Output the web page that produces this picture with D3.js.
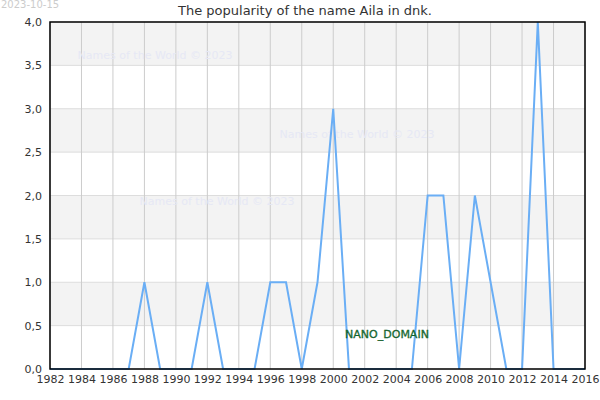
<!DOCTYPE html><html><head><script src="https://cdn.jsdelivr.net/npm/d3@7"></script>
<style>body{margin:0}</style></head><body><svg width="600" height="400"></svg><script>
const years=d3.range(1982,2017);
const values=[0,0,0,0,0,0,1,0,0,0,1,0,0,0,1,1,0,1,3,0,0,0,0,0,2,2,0,2,1,0,0,4,0,0,0];
const yTicks=[0,0.5,1,1.5,2,2.5,3,3.5,4];
const xTicks=d3.range(1982,2017,2);
const svg=d3.select("svg"),L=50,R=585,T=22,B=369;
const x=d3.scaleLinear().domain([1982,2016]).range([L,R]);
const y=d3.scaleLinear().domain([0,4]).range([B,T]);
const f="DejaVu Sans";
svg.append("rect").attr("width",600).attr("height",400).attr("fill","#fff");
[0.5,1.5,2.5,3.5].forEach(v=>svg.append("rect").attr("x",L).attr("width",R-L).attr("y",y(v+0.5)).attr("height",y(v)-y(v+0.5)).attr("fill","#f3f3f3"));
yTicks.forEach(v=>svg.append("line").attr("x1",L).attr("x2",R).attr("y1",y(v)).attr("y2",y(v)).attr("stroke","#ddd"));
xTicks.forEach(v=>svg.append("line").attr("x1",x(v)).attr("x2",x(v)).attr("y1",T).attr("y2",B).attr("stroke","#ccc"));
const wm=[[155,59],[357,138],[217,205]];
wm.forEach(p=>svg.append("text").attr("x",p[0]).attr("y",p[1]).attr("text-anchor","middle").attr("font-family",f).attr("font-size",11).attr("fill","#e6e8f5").text("Names of the World © 2023"));
svg.append("path").datum(years.map((d,i)=>[d,values[i]])).attr("fill","none").attr("stroke","#6aaef5").attr("stroke-width",2)
 .attr("d",d3.line().x(d=>x(d[0])).y(d=>y(d[1])));
svg.append("rect").attr("x",L).attr("y",T).attr("width",R-L).attr("height",B-T).attr("fill","none").attr("stroke","#000").attr("stroke-width",1.5);
const ax=svg.append("g").attr("transform",`translate(0,${B})`).call(d3.axisBottom(x).tickValues(xTicks).tickFormat(d3.format("d")).tickSize(0).tickPadding(6));
const ay=svg.append("g").attr("transform",`translate(${L},0)`).call(d3.axisLeft(y).tickValues(yTicks).tickFormat(d=>d.toFixed(1).replace(".",",")).tickSize(0).tickPadding(8));
[ax,ay].forEach(a=>{a.select(".domain").remove();a.selectAll("text").attr("font-family",f).attr("font-size",11).attr("fill","#333");});
svg.append("text").attr("x",305).attr("y",15).attr("text-anchor","middle").attr("font-family",f).attr("font-size",13).attr("fill","#333").text("The popularity of the name Aila in dnk.");
svg.append("text").attr("x",1).attr("y",8).attr("font-family",f).attr("font-size",10).attr("fill","#ccc").text("2023-10-15");
svg.append("text").attr("x",387).attr("y",338).attr("text-anchor","middle").attr("font-family",f).attr("font-size",11).attr("fill","#1a7a3a").attr("stroke","#0a4a1a").attr("stroke-width",0.3).text("NANO_DOMAIN");
</script></body></html>
